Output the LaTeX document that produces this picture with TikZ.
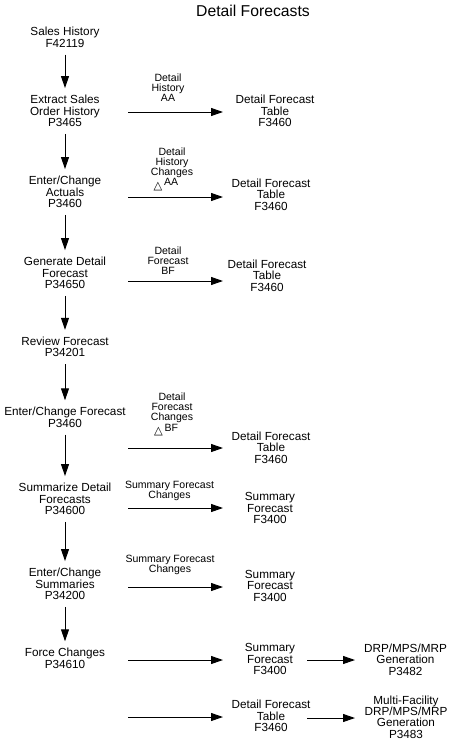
\documentclass[tikz,border=0pt]{standalone}
\usepackage{fontspec}
\setmainfont{Liberation Sans}
\newfontfamily\symfont{DejaVu Sans}
\usetikzlibrary{arrows.meta}

\tikzset{every picture/.style={line width=0.75pt}}
\tikzset{
  prog/.style={align=center, inner sep=3pt, font=\fontsize{8.8pt}{8.6pt}\selectfont},
  lbl/.style={align=center, inner sep=1pt, font=\fontsize{7.9pt}{7.5pt}\selectfont},
  flow/.style={-{Triangle[length=9pt,width=6pt]}, shorten <=2pt, shorten >=2pt},
  feed/.style={-{Triangle[length=9pt,width=6pt]}},
}
\newcommand{\dlt}[1]{{\symfont\fontsize{8.5pt}{8pt}\selectfont △}\,\raisebox{2.5pt}{#1}\hspace*{9pt}}

\begin{document}
\begin{tikzpicture}[x=0.75pt,y=0.75pt,yscale=-1,xscale=1]
\useasboundingbox (0,0) rectangle (453,746);

% Title
\node (title) at (253,11) {\fontsize{11.8pt}{12pt}\selectfont Detail Forecasts};

% Programs (left column)
\node[prog] (hist) at (65,37.5) {Sales History\\F42119};
\node[prog] (extr) at (65,111) {Extract Sales\\Order History\\P3465};
\node[prog] (actl) at (65,192) {Enter/Change\\Actuals\\P3460};
\node[prog] (genr) at (65,273) {Generate Detail\\Forecast\\P34650};
\node[prog] (revw) at (65,347) {Review Forecast\\P34201};
\node[prog] (entf) at (65,417.5) {Enter/Change Forecast\\P3460};
\node[prog] (summ) at (65,499) {Summarize Detail\\Forecasts\\P34600};
\node[prog] (ents) at (65,584) {Enter/Change\\Summaries\\P34200};
\node[prog] (forc) at (65,658.5) {Force Changes\\P34610};

% Vertical flow
\draw[flow] (hist) -- (extr);
\draw[flow] (extr) -- (actl);
\draw[flow] (actl) -- (genr);
\draw[flow] (genr) -- (revw);
\draw[flow] (revw) -- (entf);
\draw[flow] (entf) -- (summ);
\draw[flow] (summ) -- (ents);
\draw[flow] (ents) -- (forc);

% Tables (right)
\node[prog] (tbl1) at (275,111) {Detail Forecast\\Table\\F3460};
\node[prog] (tbl2) at (271,194.5) {Detail Forecast\\Table\\F3460};
\node[prog] (tbl3) at (267,275.5) {Detail Forecast\\Table\\F3460};
\node[prog] (tbl4) at (271,447.5) {Detail Forecast\\Table\\F3460};
\node[prog] (tbl5) at (270,508) {Summary\\Forecast\\F3400};
\node[prog] (tbl6) at (270,585.5) {Summary\\Forecast\\F3400};
\node[prog] (tbl7) at (270,659) {Summary\\Forecast\\F3400};
\node[prog] (tbl8) at (271,716) {Detail Forecast\\Table\\F3460};
\node[prog] (gen1) at (405.5,659.5) {DRP/MPS/MRP\\Generation\\P3482};
\node[prog] (gen2) at (406,717) {Multi-Facility\\DRP/MPS/MRP\\Generation\\P3483};

% Arrow labels
\node[lbl] (lab1) at (168,87.5) {Detail\\History\\AA};
\node[lbl] (lab2) at (172,169) {Detail\\History\\Changes\\\dlt{AA}};
\node[lbl] (lab3) at (168,261) {Detail\\Forecast\\BF};
\node[lbl] (lab4) at (172,414.5) {Detail\\Forecast\\Changes\\\dlt{BF}};
\node[lbl] (lab5) at (169.5,490.5) {Summary Forecast\\Changes};
\node[lbl] (lab6) at (170,564.5) {Summary Forecast\\Changes};

% Horizontal arrows
\foreach \n/\y in {1/112,2/197,3/281,4/448,5/508,6/587,7/660,8/717}{
  \coordinate (out\n) at (128,\y);
  \coordinate (in\n) at (223,\y);
  \draw[feed] (out\n) -- (in\n);
}
\coordinate (out9) at (307,660);
\coordinate (in9) at (355,660);
\draw[feed] (out9) -- (in9);
\coordinate (out10) at (307,718);
\coordinate (in10) at (355,718);
\draw[feed] (out10) -- (in10);

\end{tikzpicture}
\end{document}
